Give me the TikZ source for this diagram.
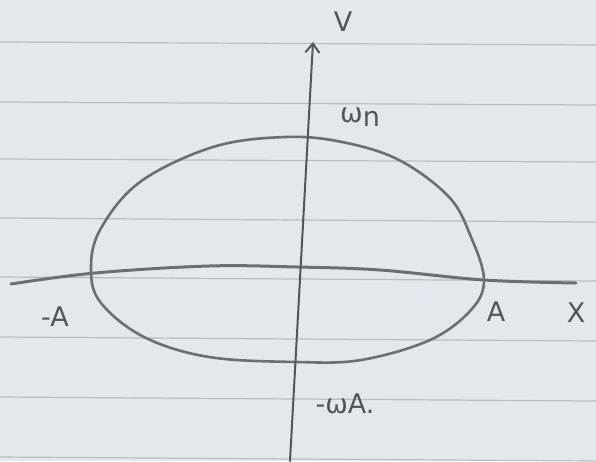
\documentclass[tikz,border=0pt]{standalone}
\usepackage{fontspec}
\setmainfont{DejaVu Sans}
\usetikzlibrary{arrows.meta}
\definecolor{paper}{HTML}{E2E8EB}
\definecolor{rule}{HTML}{B4BEC4}
\definecolor{pencil}{HTML}{6E6E6E}
\definecolor{ink}{HTML}{555555}
\tikzset{
  ruleline/.style={rule, line width=1.2pt},
  curve/.style={pencil, line width=2.6pt, line cap=round, line join=round},
  axis/.style={ink, line width=2pt, line cap=round},
  lbl/.style={ink, font=\fontsize{27}{30}\selectfont, inner sep=0pt}
}
\begin{document}
\begin{tikzpicture}[x=1pt,y=-1pt]
\fill[paper] (0,0) rectangle (596,461);
\useasboundingbox (0,0) rectangle (596,461);
% paper rules
\foreach \y/\d in {42/3,102/3,159/3,218/4,277/4,337/4,397/4,457/4}
  \draw[ruleline] (0,\y) -- (596,\y+\d);
% ellipse-like closed curve
\draw[curve] plot[smooth cycle, tension=0.6] coordinates {
  (91,270) (100,230) (140,182) (213,147) (285,137) (342,142) (399,160)
  (449,197) (471,237) (484,280) (471,310) (430,340) (361,360) (297,362)
  (209,357) (144,337) (101,303)};
% x axis (hand drawn)
\coordinate (xl) at (11,284);
\coordinate (xr) at (576,283);
\draw[curve, line width=3pt] plot[smooth, tension=0.6] coordinates {
  (11,284) (95,273) (209,266) (297,267) (380,270) (484,280) (576,283)};
% v axis
\coordinate (vb) at (290,461);
\coordinate (vt) at (313,42);
\draw[axis, -{Straight Barb[length=9pt, width=14pt, line width=2pt]}] (vb) -- (vt);
% labels
\node[lbl] (V) at (343,22) {V};
\node[lbl] (wn) at (360,117) {ω\raisebox{-4pt}{n}};
\node[lbl] (mA) at (55,317) {-A};
\node[lbl] (A) at (496,312) {A};
\node[lbl] (X) at (576,313) {X};
\node[lbl] (mwA) at (345,404) {-ωA.};
\end{tikzpicture}
\end{document}
